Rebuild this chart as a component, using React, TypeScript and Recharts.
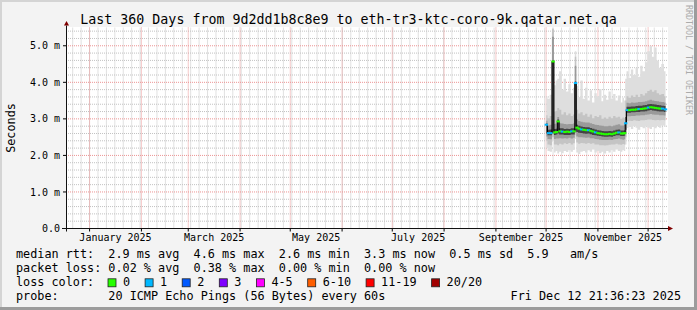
import React from 'react';
import { ComposedChart, Area, Line, Scatter, XAxis, YAxis, ReferenceLine } from 'recharts';

const W = 697;
const H = 310;
const MONO = '"DejaVu Sans Mono", "Liberation Mono", monospace';
const PLOT_LEFT = 66;
const PLOT_TOP = 27.5;
const PLOT_RIGHT = 668;
const PLOT_BOTTOM = 228.5;

const DAY = 86400000;
const END_TS = Date.UTC(2025, 11, 12, 21, 36, 23);
const START_TS = END_TS - 360 * DAY;
const DATA_ORIGIN = Date.UTC(2025, 9, 1);

// days after 1 Oct 2025
const dayOffsets = [0.15, 1.5, 2.8, 4.2, 5.2, 6.2, 7.2, 8.4, 9.8, 11.2, 12.6, 14.0, 15.4, 16.7, 17.6, 18.5, 19.8, 21.2, 22.6, 24.0, 25.4, 26.8, 28.2, 29.6, 31.0, 32.4, 33.8, 35.2, 36.6, 38.0, 39.4, 40.8, 42.2, 43.6, 45.0, 46.2, 47.0, 47.6, 48.6, 50.0, 51.4, 52.8, 54.2, 55.6, 57.0, 58.4, 59.8, 61.2, 62.6, 64.0, 65.4, 66.8, 68.2, 69.6, 71.4];

// median rtt in ms
const medianRtt = [2.84, 2.61, 2.61, 4.57, 2.63, 2.64, 2.93, 2.66, 2.65, 2.64, 2.65, 2.64, 2.66, 2.66, 3.98, 2.76, 2.73, 2.71, 2.70, 2.69, 2.69, 2.67, 2.65, 2.63, 2.61, 2.60, 2.59, 2.58, 2.58, 2.59, 2.58, 2.60, 2.62, 2.63, 2.60, 2.60, 2.61, 2.88, 3.24, 3.24, 3.25, 3.25, 3.26, 3.27, 3.27, 3.28, 3.29, 3.31, 3.32, 3.31, 3.30, 3.29, 3.28, 3.28, 3.26];

// lost pings out of 20
const lossCount = [1, 1, 1, 0, 0, 0, 0, 0, 1, 0, 0, 0, 1, 0, 1, 0, 0, 1, 0, 0, 1, 0, 0, 1, 0, 0, 0, 0, 0, 0, 0, 0, 0, 1, 0, 0, 0, 1, 1, 0, 0, 0, 0, 1, 0, 0, 0, 1, 0, 0, 0, 0, 0, 1, 1];

// smoke bands (ms), outermost to innermost
const smoke1Low = [2.20, 2.12, 2.10, 2.40, 2.08, 2.12, 2.05, 2.10, 2.06, 2.12, 2.09, 2.14, 2.10, 2.15, 2.45, 2.08, 2.04, 2.10, 2.12, 2.08, 2.14, 2.10, 2.16, 2.08, 2.12, 2.06, 2.10, 2.05, 2.12, 2.08, 2.14, 2.10, 2.16, 2.12, 2.10, 2.14, 2.12, 2.30, 2.75, 2.78, 2.72, 2.80, 2.76, 2.70, 2.78, 2.74, 2.80, 2.76, 2.72, 2.78, 2.74, 2.80, 2.76, 2.82, 2.78];
const smoke1High = [3.62, 3.55, 3.66, 5.50, 3.92, 4.05, 4.10, 4.30, 3.80, 4.10, 3.75, 3.95, 3.70, 3.85, 4.85, 3.90, 3.60, 4.05, 3.55, 3.85, 3.50, 3.78, 3.45, 3.70, 3.62, 3.82, 3.48, 3.66, 3.52, 3.75, 3.55, 3.68, 3.50, 3.64, 3.45, 3.58, 3.50, 4.10, 4.30, 4.12, 4.35, 4.20, 4.40, 4.15, 4.45, 4.30, 4.55, 4.85, 5.00, 4.70, 4.95, 4.60, 4.40, 4.50, 4.30];
const smoke2Low = [2.40, 2.30, 2.28, 2.50, 2.30, 2.30, 2.28, 2.32, 2.30, 2.33, 2.31, 2.34, 2.30, 2.33, 2.55, 2.35, 2.32, 2.34, 2.33, 2.32, 2.34, 2.32, 2.33, 2.30, 2.30, 2.28, 2.28, 2.27, 2.28, 2.29, 2.30, 2.30, 2.32, 2.30, 2.29, 2.31, 2.30, 2.50, 2.94, 2.95, 2.94, 2.96, 2.95, 2.94, 2.96, 2.96, 2.97, 2.98, 2.98, 2.97, 2.96, 2.97, 2.96, 2.97, 2.96];
const smoke2High = [3.10, 3.02, 3.08, 5.45, 3.20, 3.22, 3.30, 3.25, 3.12, 3.18, 3.10, 3.15, 3.08, 3.12, 4.70, 3.25, 3.15, 3.18, 3.10, 3.14, 3.06, 3.12, 3.02, 3.08, 3.05, 3.10, 3.00, 3.04, 3.00, 3.06, 3.02, 3.08, 3.04, 3.06, 3.00, 3.04, 3.02, 3.50, 3.62, 3.58, 3.64, 3.60, 3.66, 3.60, 3.68, 3.64, 3.70, 3.76, 3.80, 3.74, 3.78, 3.70, 3.66, 3.68, 3.62];
const smoke3Low = [2.52, 2.45, 2.44, 2.58, 2.45, 2.46, 2.46, 2.47, 2.46, 2.47, 2.46, 2.48, 2.46, 2.48, 2.62, 2.52, 2.50, 2.50, 2.49, 2.48, 2.49, 2.47, 2.47, 2.45, 2.44, 2.43, 2.42, 2.42, 2.42, 2.43, 2.42, 2.44, 2.45, 2.46, 2.44, 2.43, 2.44, 2.62, 3.07, 3.07, 3.08, 3.08, 3.09, 3.09, 3.10, 3.10, 3.11, 3.12, 3.13, 3.12, 3.11, 3.11, 3.10, 3.10, 3.09];
const smoke3High = [2.95, 2.82, 2.84, 5.25, 2.86, 2.88, 3.05, 2.88, 2.87, 2.86, 2.85, 2.86, 2.86, 2.87, 4.45, 2.98, 2.94, 2.92, 2.91, 2.90, 2.90, 2.88, 2.86, 2.84, 2.83, 2.82, 2.81, 2.80, 2.80, 2.81, 2.80, 2.82, 2.84, 2.85, 2.82, 2.82, 2.83, 3.25, 3.44, 3.43, 3.45, 3.44, 3.45, 3.46, 3.46, 3.47, 3.48, 3.50, 3.52, 3.50, 3.49, 3.48, 3.47, 3.46, 3.45];
const smoke4Low = [2.60, 2.55, 2.55, 2.62, 2.56, 2.57, 2.60, 2.57, 2.57, 2.56, 2.56, 2.56, 2.57, 2.57, 2.66, 2.64, 2.62, 2.61, 2.60, 2.59, 2.60, 2.58, 2.56, 2.55, 2.54, 2.53, 2.52, 2.51, 2.51, 2.52, 2.51, 2.53, 2.55, 2.55, 2.53, 2.53, 2.54, 2.70, 3.17, 3.17, 3.18, 3.18, 3.19, 3.19, 3.20, 3.20, 3.21, 3.23, 3.24, 3.23, 3.22, 3.21, 3.20, 3.20, 3.19];
const smoke4High = [2.88, 2.70, 2.71, 4.60, 2.72, 2.73, 2.98, 2.74, 2.74, 2.72, 2.73, 2.72, 2.74, 2.74, 4.02, 2.84, 2.81, 2.79, 2.78, 2.77, 2.77, 2.75, 2.73, 2.71, 2.69, 2.68, 2.67, 2.66, 2.66, 2.67, 2.66, 2.68, 2.70, 2.71, 2.68, 2.68, 2.69, 3.05, 3.33, 3.33, 3.34, 3.34, 3.35, 3.36, 3.36, 3.37, 3.38, 3.40, 3.41, 3.40, 3.39, 3.38, 3.37, 3.36, 3.35];

const smokeColors = ['#dedede', '#c4c4c4', '#9a9a9a', '#444444'];

const yTicks = [0, 1, 2, 3, 4, 5];
const labelMonths = [0, 2, 4, 6, 8, 10];
const monthLabels = ['January 2025', 'March 2025', 'May 2025', 'July 2025', 'September 2025', 'November 2025'];

const lossLabels = ['0', '1', '2', '3', '4-5', '6-10', '11-19', '20/20'];
const lossColors = ['#26ff00', '#00b8ff', '#0059ff', '#7e00ff', '#ff00ff', '#ff5e00', '#ff0000', '#a10000'];

const rttStats = ['2.9', '4.6', '2.6', '3.3', '0.5', '5.9'];
const lossStats = ['0.02', '0.38', '0.00', '0.00'];

const rows = dayOffsets.map((d, i) => ({
  t: DATA_ORIGIN + d * DAY,
  median: medianRtt[i],
  loss: lossCount[i],
  s1: [smoke1Low[i], smoke1High[i]],
  s2: [smoke2Low[i], smoke2High[i]],
  s3: [smoke3Low[i], smoke3High[i]],
  s4: [smoke4Low[i], smoke4High[i]],
}));

const monthStarts = Array.from({ length: 12 }, (_, m) => Date.UTC(2025, m, 1));
const labelTicks = labelMonths.map((m) => (Date.UTC(2025, m, 1) + Date.UTC(2025, m + 1, 1)) / 2);
const xTicks = [...monthStarts, ...labelTicks].sort((a, b) => a - b);

const minorX: number[] = [];
for (let k = 0; ; k++) {
  const t = START_TS + 4.0 * DAY + k * 5.04 * DAY;
  if (t >= END_TS) break;
  minorX.push(t);
}
const minorY: number[] = [];
for (let k = 1; k <= 27; k++) {
  if (k % 5 !== 0) minorY.push(k / 5);
}
const majorY = [1, 2, 3, 4, 5];

function lossColor(n: number) {
  if (n <= 0) return lossColors[0];
  if (n === 1) return lossColors[1];
  if (n === 2) return lossColors[2];
  if (n === 3) return lossColors[3];
  if (n <= 5) return lossColors[4];
  if (n <= 10) return lossColors[5];
  if (n <= 19) return lossColors[6];
  return lossColors[7];
}

const renderXTick = (props: any) => {
  const { x, payload } = props;
  const idx = labelTicks.indexOf(payload.value);
  if (idx >= 0) {
    return (
      <text x={x} y={PLOT_BOTTOM + 12.5} textAnchor="middle" fontFamily={MONO} fontSize={10} fill="#000">
        {monthLabels[idx]}
      </text>
    );
  }
  return <line x1={x} x2={x} y1={PLOT_BOTTOM} y2={PLOT_BOTTOM + 3} stroke="#000" strokeWidth={1} />;
};

const renderDash = (props: any) => {
  const { cx, cy, payload } = props;
  if (cx == null || cy == null) return <g />;
  return <rect x={cx - 1.7} y={cy - 1} width={3.4} height={2} fill={lossColor(payload.loss)} />;
};

export default function App() {
  const legendY = 258.3;
  const lineGap = 14;
  const cw = 7.1;
  let bx = 108;
  const boxes = lossLabels.map((lab, i) => {
    const el = (
      <g key={lab}>
        <rect x={bx} y={legendY + 2 * lineGap - 7.5} width={8} height={8} fill={lossColors[i]} stroke="#222" strokeWidth={0.8} />
        <text x={bx + 15} y={legendY + 2 * lineGap} fontFamily={MONO} fontSize={11.8} fill="#000">{lab}</text>
      </g>
    );
    bx += 30 + lab.length * cw;
    return el;
  });

  return (
    <div style={{ position: 'absolute', left: 0, top: 0, width: W, height: H, background: '#f3f3f3', overflow: 'hidden' }}>
      <div style={{ position: 'absolute', left: 0, top: 0, width: W, height: 2, background: '#d4d4d4' }} />
      <div style={{ position: 'absolute', left: 0, top: 0, width: 2, height: H, background: '#d4d4d4' }} />
      <div style={{ position: 'absolute', left: 0, top: H - 3, width: W, height: 3, background: '#9c9c9c' }} />
      <div style={{ position: 'absolute', left: W - 3, top: 0, width: 3, height: H, background: '#9c9c9c' }} />
      <div style={{ position: 'absolute', left: PLOT_LEFT, top: 27, width: PLOT_RIGHT - PLOT_LEFT, height: 202, background: '#ffffff' }} />
      <div style={{ position: 'absolute', left: 0, top: 0 }}>
        <ComposedChart width={W} height={H} data={rows} margin={{ top: PLOT_TOP, right: W - PLOT_RIGHT, bottom: 0, left: 0 }}>
          {minorX.map((t) => (
            <ReferenceLine key={'mx' + t} x={t} stroke="#c2c2c2" strokeDasharray="1 1" ifOverflow="hidden" zIndex={-20} />
          ))}
          {minorY.map((v) => (
            <ReferenceLine key={'my' + v} y={v} stroke="#c2c2c2" strokeDasharray="1 1" zIndex={-20} />
          ))}
          {monthStarts.map((t) => (
            <ReferenceLine key={'Mx' + t} x={t} stroke="#ec9494" strokeDasharray="1 1" zIndex={-10} />
          ))}
          {majorY.map((v) => (
            <ReferenceLine key={'My' + v} y={v} stroke="#ec9494" strokeDasharray="1 1" zIndex={-10} />
          ))}
          <XAxis
            dataKey="t"
            type="number"
            domain={[START_TS, END_TS]}
            ticks={xTicks}
            interval={0}
            height={H - PLOT_BOTTOM}
            axisLine={false}
            tickLine={false}
            tick={renderXTick}
            allowDataOverflow
          />
          <YAxis
            type="number"
            domain={[0, 5.5]}
            ticks={yTicks}
            width={PLOT_LEFT}
            tickSize={3}
            tickMargin={3}
            axisLine={false}
            tickLine={{ stroke: '#000' }}
            tick={{ fontFamily: MONO, fontSize: 10, fill: '#000' }}
            tickFormatter={(v: number) => (v === 0 ? '0.0' : `${v.toFixed(1)} m`)}
            allowDataOverflow
          />
          <Area dataKey="s1" type="step" stroke="none" fill={smokeColors[0]} fillOpacity={1} isAnimationActive={false} dot={false} activeDot={false} />
          <Area dataKey="s2" type="step" stroke="none" fill={smokeColors[1]} fillOpacity={1} isAnimationActive={false} dot={false} activeDot={false} />
          <Area dataKey="s3" type="step" stroke="none" fill={smokeColors[2]} fillOpacity={1} isAnimationActive={false} dot={false} activeDot={false} />
          <Area dataKey="s4" type="step" stroke="none" fill={smokeColors[3]} fillOpacity={1} isAnimationActive={false} dot={false} activeDot={false} />
          <Line dataKey="median" type="step" stroke="#000" strokeWidth={1} dot={false} activeDot={false} isAnimationActive={false} />
          <Scatter data={rows} dataKey="median" shape={renderDash} isAnimationActive={false} />
        </ComposedChart>
      </div>
      <svg width={W} height={H} style={{ position: 'absolute', left: 0, top: 0, pointerEvents: 'none' }}>
        <line x1={62} x2={668} y1={PLOT_BOTTOM} y2={PLOT_BOTTOM} stroke="#111" strokeWidth={1} />
        <polygon points={`668,226 668,231 673,228.5`} fill="#800000" />
        <line x1={66.5} x2={66.5} y1={231.5} y2={25.5} stroke="#111" strokeWidth={1} />
        <polygon points={`64,25.5 69,25.5 66.5,21`} fill="#800000" />
        <text x={W / 2} y={24} textAnchor="middle" fontFamily={MONO} fontSize={13.3} fill="#000">
          Last 360 Days from 9d2dd1b8c8e9 to eth-tr3-ktc-coro-9k.qatar.net.qa
        </text>
        <text x={15} y={128} textAnchor="middle" fontFamily={MONO} fontSize={11.8} fill="#000" transform="rotate(-90 15 128)">
          Seconds
        </text>
        <text x={685.5} y={5} fontFamily={MONO} fontSize={8.3} fill="#ababab" transform="rotate(90 685.5 5)">
          RRDTOOL / TOBI OETIKER
        </text>
        <g fontFamily={MONO} fontSize={11.8} fill="#000" style={{ whiteSpace: 'pre' }}>
          <text x={16} y={legendY} style={{ whiteSpace: 'pre' }}>
            {`median rtt:  ${rttStats[0]} ms avg  ${rttStats[1]} ms max  ${rttStats[2]} ms min  ${rttStats[3]} ms now  ${rttStats[4]} ms sd  ${rttStats[5]}   am/s`}
          </text>
          <text x={16} y={legendY + lineGap} style={{ whiteSpace: 'pre' }}>
            {`packet loss: ${lossStats[0]} % avg  ${lossStats[1]} % max  ${lossStats[2]} % min  ${lossStats[3]} % now`}
          </text>
          <text x={16} y={legendY + 2 * lineGap} style={{ whiteSpace: 'pre' }}>
            {'loss color:'}
          </text>
          {boxes}
          <text x={16} y={legendY + 3 * lineGap} style={{ whiteSpace: 'pre' }}>
            {'probe:       20 ICMP Echo Pings (56 Bytes) every 60s'}
          </text>
          <text x={681} y={legendY + 3 * lineGap} textAnchor="end" style={{ whiteSpace: 'pre' }}>
            {'Fri Dec 12 21:36:23 2025'}
          </text>
        </g>
      </svg>
    </div>
  );
}
